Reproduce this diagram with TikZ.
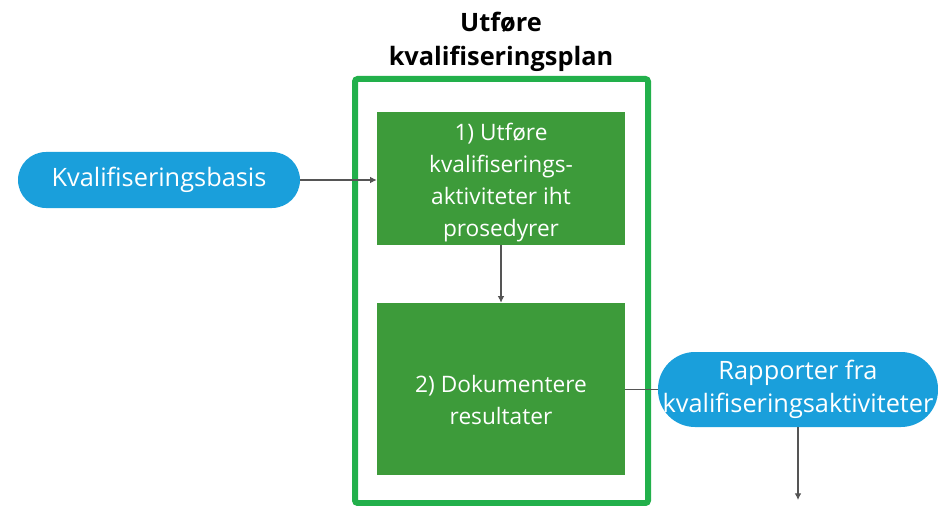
\documentclass[tikz,border=0pt]{standalone}
\usepackage{fontspec}
\setmainfont{Open Sans}
\usetikzlibrary{arrows.meta}
\definecolor{framegreen}{HTML}{22B04B}
\definecolor{boxgreen}{HTML}{3D9B3A}
\definecolor{termblue}{HTML}{1A9FDB}
\definecolor{linegray}{HTML}{555555}
\tikzset{
  stepbox/.style={fill=boxgreen, minimum width=248*0.75pt, inner sep=0pt},
  steptext/.style={align=center, text=white, font=\fontsize{17}{24}\selectfont},
  terminal/.style={rectangle, fill=termblue, text=white, align=center,
    font=\fontsize{19}{24.5}\selectfont, inner sep=0pt},
  flow/.style={draw=linegray, line width=0.8pt, -{Latex[length=5pt,width=5pt]}},
  plain/.style={draw=linegray, line width=0.8pt}
}
\begin{document}
\begin{tikzpicture}[x=0.75pt,y=-0.75pt]
\useasboundingbox (0,0) rectangle (938,506);
% title of the phase
\node[align=center, font=\bfseries\fontsize{19}{26}\selectfont] (title) at (501,42) {Utføre\\kvalifiseringsplan};
% outer frame of the phase
\draw[framegreen, line width=4.5pt, rounded corners=2pt] (355,79) rectangle (648,503);
% process steps
\node[stepbox, minimum height=133*0.75pt] (s1) at (501,178.5) {};
\node[steptext] (s1text) at (501,182.5) {1) Utføre\\kvalifiserings-\\aktiviteter iht\\prosedyrer};
\node[stepbox, minimum height=172*0.75pt] (s2) at (501,389) {};
\node[steptext] (s2text) at (501,400) {2) Dokumentere\\resultater};
% input and output terminals (pill shaped)
\node[terminal, rounded corners=28*0.75pt, minimum width=282*0.75pt, minimum height=56*0.75pt] (in) at (159,180) {Kvalifiseringsbasis};
\node[terminal, rounded corners=37*0.75pt, minimum width=280*0.75pt, minimum height=75*0.75pt] (out) at (798,389.5) {Rapporter fra\\kvalifiseringsaktiviteter};
\coordinate (down) at (798,500);
% connectors
\draw[flow] (in.east) -- (s1.west |- in.east);
\draw[flow] (s1.south) -- (s2.north);
\draw[plain] (s2.east |- out.west) -- (out.west);
\draw[flow] (out.south) -- (down);
\end{tikzpicture}
\end{document}
